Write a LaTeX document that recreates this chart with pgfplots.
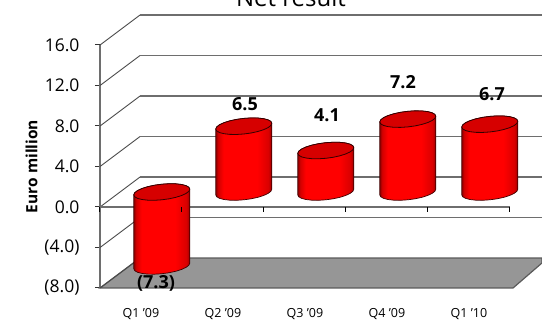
\documentclass[border=0pt]{standalone}
\usepackage{fontspec}
\setmainfont{Open Sans}
\usepackage{pgfplots}
\pgfplotsset{compat=1.18}
\usepackage{pgfplotstable}

\definecolor{wallgrid}{HTML}{6E6E6E}
\definecolor{walldiag}{HTML}{4A4A4A}
\definecolor{floorfill}{HTML}{969696}
\definecolor{floorline}{HTML}{5A5A5A}
\definecolor{captop}{HTML}{D60000}

% Rim of a cylinder: u,v on the unit circle, s selects lower (0) or upper (1) end
\pgfplotstableread{
u v s
-1 0 0
-.966 -.259 0
-.866 -.5 0
-.707 -.707 0
-.5 -.866 0
-.259 -.966 0
0 -1 0
.259 -.966 0
.5 -.866 0
.707 -.707 0
.866 -.5 0
.966 -.259 0
1 0 0
1 0 1
.966 .259 1
.866 .5 1
.707 .707 1
.5 .866 1
.259 .966 1
0 1 1
-.259 .966 1
-.5 .866 1
-.707 .707 1
-.866 .5 1
-.966 .259 1
-1 0 1
}\cylrim

\pgfdeclarehorizontalshading{cylbody}{100bp}{
  color(0bp)=(black!55!red);
  color(25bp)=(black!45!red);
  color(27bp)=(black!18!red);
  color(32bp)=(red);
  color(62bp)=(red);
  color(72bp)=(black!15!red);
  color(75bp)=(black!40!red);
  color(100bp)=(black!55!red)}

% \cyl{category}{lower value}{upper value}
\newcommand{\cyl}[3]{
  \addplot[draw=black!75!red, line width=0.7pt, shade, shading=cylbody, forget plot]
    table[x expr={#1+0.2537+0.3415*\thisrow{u}},
          y expr={#2+\thisrow{s}*(#3-#2)+1.48+0.77*\thisrow{v}+0.28*\thisrow{u}}]
    {\cylrim} -- cycle;
  \addplot[draw=black!80!red, line width=0.8pt, fill=captop, forget plot]
    table[x expr={#1+0.2537+0.3415*\thisrow{u}},
          y expr={#3+1.48+0.77*\thisrow{v}+0.28*\thisrow{u}}]
    {\cylrim} -- cycle;
}

% One gridline: along the side wall, then along the back wall
\newcommand{\gridrow}[2]{
  \addplot[walldiag, line width=0.9pt, forget plot] coordinates {(-0.5,#1) (-0.012,#2)};
  \addplot[wallgrid, line width=1.4pt, forget plot] coordinates {(-0.012,#2) (4.89,#2)};
}

\begin{document}
\begin{tikzpicture}
\clip (0,0) rectangle (542pt,327pt);
\useasboundingbox (0,0) rectangle (542pt,327pt);

\node[anchor=base, font=\fontsize{24}{28}\selectfont] at (291pt,320pt) {Net result};

\begin{axis}[
  at={(100pt,39pt)}, anchor=south west,
  scale only axis, width=410pt, height=243pt,
  xmin=-0.5, xmax=4.5, ymin=-8, ymax=16,
  clip=false,
  axis x line=bottom, axis y line=left,
  x axis line style={draw=none, -},
  y axis line style={draw=wallgrid, line width=1.4pt, -},
  xtick={0,1,2,3,4},
  xticklabels={Q1 '09,Q2 '09,Q3 '09,Q4 '09,Q1 '10},
  x tick style={draw=none},
  xticklabel style={font=\fontsize{12.5}{15}\selectfont, yshift=-12pt},
  ytick={-8,-4,0,4,8,12,16},
  yticklabels={(8.0),(4.0),0.0,4.0,8.0,12.0,16.0},
  y tick style={draw=black!80, line width=1pt},
  tick align=outside, major tick length=5pt,
  yticklabel style={font=\fontsize{17.5}{20}\selectfont, xshift=-12pt},
  ylabel={\textbf{Euro million}},
  ylabel style={font=\fontsize{15.5}{18}\selectfont},
]

% Floor of the box
\addplot[fill=floorfill, draw=floorline, line width=1.2pt, forget plot] coordinates
  {(-0.5,-8) (-0.012,-5.04) (4.89,-5.04) (4.89,-5.53) (4.537,-8)} -- cycle;

% Walls
\gridrow{-4}{-1.04}
\gridrow{0}{2.96}
\gridrow{4}{6.96}
\gridrow{8}{10.96}
\gridrow{12}{14.96}
\gridrow{16}{18.96}
\addplot[walldiag, line width=0.9pt, forget plot] coordinates {(-0.5,-8) (-0.012,-5.04)};

% Zero line with category separators
\addplot[wallgrid, line width=1.4pt, forget plot] coordinates {(-0.5,0) (4.5,0)};

% Net result per quarter
\cyl{0}{-7.3}{0}
\cyl{1}{0}{6.5}
\cyl{2}{0}{4.1}
\cyl{3}{0}{7.2}
\cyl{4}{0}{6.7}

\addplot[black, line width=1pt, ycomb, forget plot, no marks] coordinates
  {(-0.5,-0.45) (0.5,-0.45) (1.5,-0.45) (2.5,-0.45) (3.5,-0.45) (4.5,-0.45)};

% Value labels
\begin{scope}[every node/.style={font=\fontsize{18}{21}\selectfont\bfseries}]
\node at (axis cs:1.268,10.17) {6.5};
\node at (axis cs:2.268,9.09) {4.1};
\node at (axis cs:3.195,12.35) {7.2};
\node at (axis cs:4.28,11.16) {6.7};
\node at (axis cs:0.183,-7.5) {(7.3)};
\end{scope}
\end{axis}
\end{tikzpicture}
\end{document}
